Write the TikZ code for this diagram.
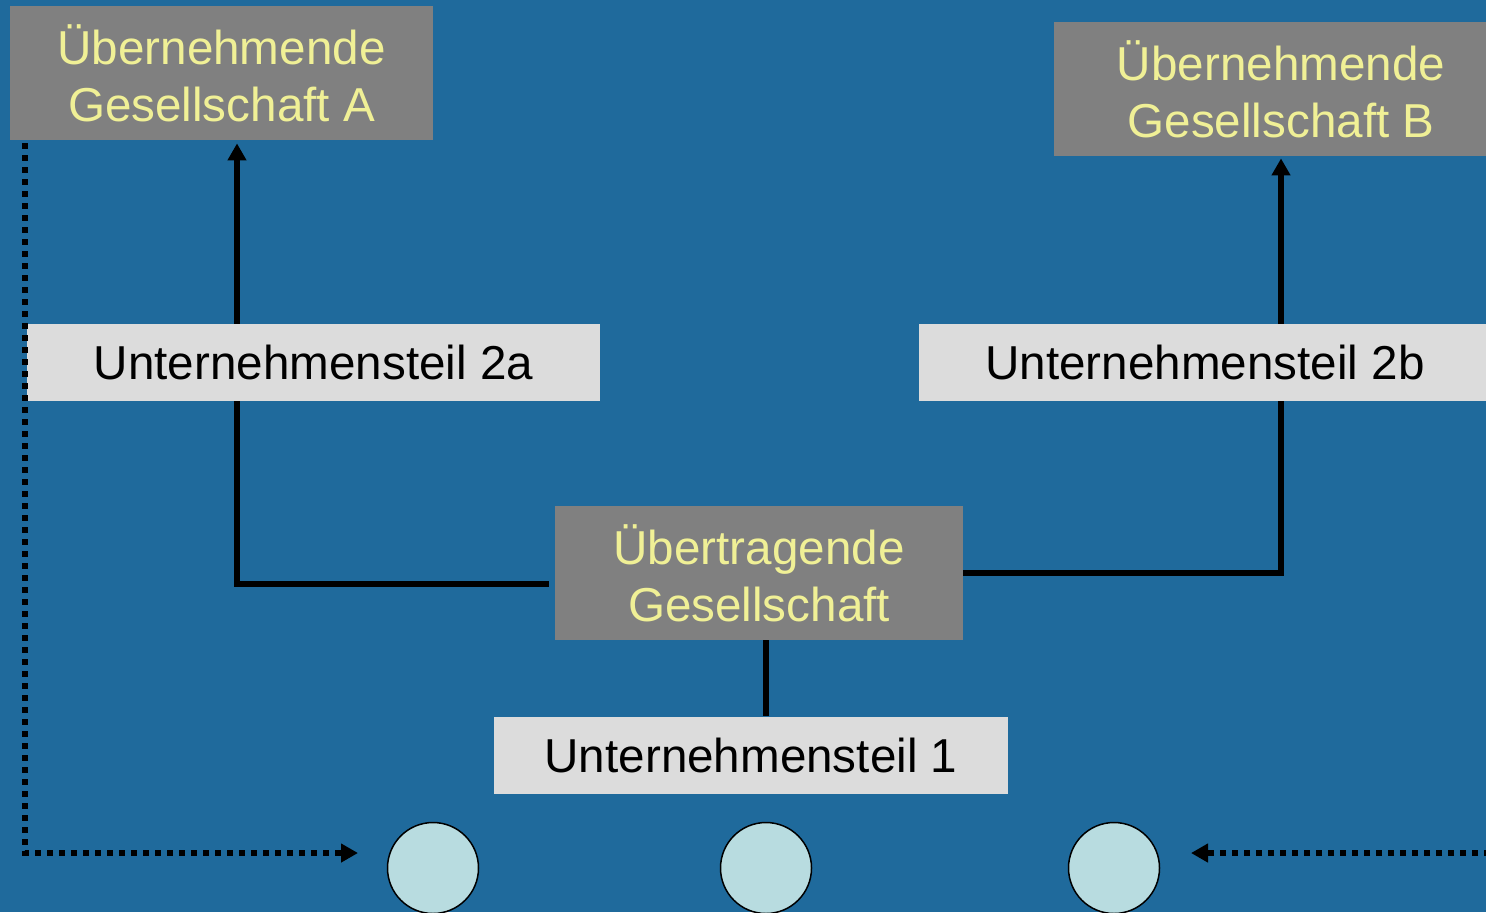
\documentclass[tikz,border=0pt]{standalone}
\usepackage{fontspec}
\setmainfont{Liberation Sans}
\usetikzlibrary{arrows.meta}

\definecolor{bgblue}{RGB}{31,106,156}
\definecolor{boxgray}{RGB}{128,128,128}
\definecolor{partgray}{RGB}{220,220,220}
\definecolor{textyellow}{RGB}{240,240,150}
\definecolor{dotfill}{RGB}{184,220,224}

\tikzset{
    company/.style={fill=boxgray, text=textyellow, inner sep=0pt, align=center,
        minimum height=67pt, font=\fontsize{23.8}{28.5}\selectfont},
    part/.style={fill=partgray, text=black, inner sep=0pt, minimum height=38.5pt,
        font=\fontsize{23.8}{28.5}\selectfont},
    share/.style={circle, draw=black, line width=0.75pt, fill=dotfill,
        minimum size=45.5pt, inner sep=0pt},
    link/.style={line width=2.75pt},
    flow/.style={line width=2.75pt, -{Triangle[length=8.5pt,width=9pt]}},
    hint/.style={line width=3pt, dash pattern=on 3pt off 3pt,
        -{Triangle[length=8.5pt,width=9pt]}}
}

\begin{document}
\begin{tikzpicture}[x=0.5pt, y=-0.5pt]

    \useasboundingbox (0, 0) rectangle (1486, 912);
    \fill[bgblue] (0, 0) rectangle (1486, 912);

    % Companies
    \node[company, minimum width=211.5pt] (ga) at (221.5, 73) {Übernehmende\\Gesellschaft A};
    \node[company, minimum width=227pt] (gb) at (1281, 89) {Übernehmende\\Gesellschaft B};
    \node[company, minimum width=204pt] (ueb) at (759, 573) {Übertragende\\Gesellschaft};

    % Parts of the business
    \node[part, minimum width=286.5pt] (t2a) at (313.5, 362.5) {Unternehmensteil 2a};
    \node[part, minimum width=286.5pt] (t2b) at (1205, 362.5) {Unternehmensteil 2b};
    \node[part, minimum width=257pt] (t1) at (751, 755) {Unternehmensteil 1};

    % Shares
    \node[share] (c1) at (433, 868) {};
    \node[share] (c2) at (766, 868) {};
    \node[share] (c3) at (1114, 868) {};

    \coordinate (jA) at (237, 0);
    \coordinate (dl) at (25, 0);
    \coordinate (dlend) at (358, 853);
    \coordinate (drstart) at (1490, 853);
    \coordinate (drend) at (1191, 853);

    % Split to the left
    \draw[link] ([shift={(-3pt,-5.5pt)}]ueb.west) -| (t2a.south -| jA);
    \draw[flow, shorten >=1.5pt] (t2a.north -| jA)--(ga.south -| jA);

    % Split to the right
    \draw[link] (ueb.east) -| (t2b.south -| gb);
    \draw[flow, shorten >=1pt] (t2b.north -| gb)--(gb.south);

    % Remaining part
    \draw[link] (ueb.south -| c2)--(t1.north -| c2);

    % Shares go to the old owners
    \draw[hint] ([yshift=-1.5pt]ga.south -| dl) |- (dlend);
    \draw[hint] (drstart)--(drend);

\end{tikzpicture}
\end{document}
